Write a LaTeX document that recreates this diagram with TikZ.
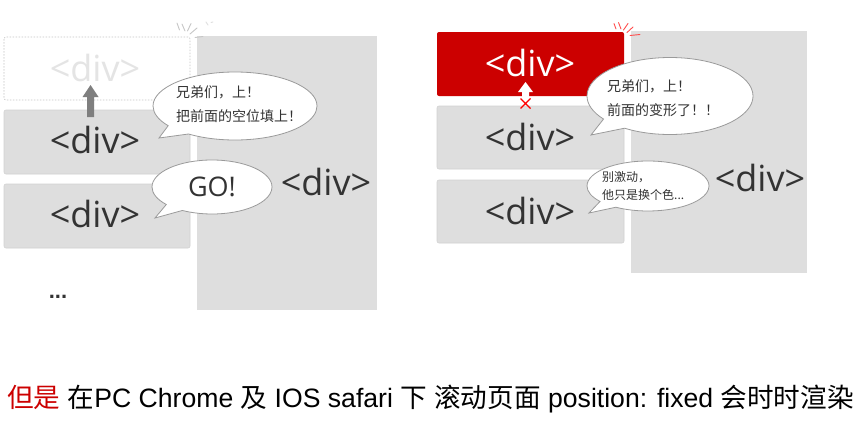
\documentclass[tikz,border=0pt]{standalone}
\usepackage{fontspec}
\setmainfont{Liberation Sans}
\newfontfamily\cjk{Noto Sans CJK SC}
\newfontfamily\divfont{Open Sans}
\usetikzlibrary{shapes.callouts}
\definecolor{boxgray}{HTML}{DEDEDE}
\definecolor{boxedge}{HTML}{D2D2D2}
\definecolor{divtext}{HTML}{333333}
\definecolor{ghost}{HTML}{E4E4E4}
\definecolor{dotedge}{HTML}{C4C4C4}
\definecolor{redbox}{HTML}{CC0000}
\definecolor{bubedge}{HTML}{9A9A9A}
\definecolor{arrgray}{HTML}{7F7F7F}
\newcommand{\Cj}[1]{{\cjk #1}}
\tikzset{
  divbox/.style={draw=boxedge, fill=boxgray, rounded corners=2pt, line width=0.6pt},
  bigbox/.style={fill=boxgray, draw=none},
  divlabel/.style={font=\divfont\fontsize{36}{40}\selectfont, text=divtext, inner sep=0pt},
  bubble/.style={ellipse callout, draw=bubedge, fill=white, line width=0.8pt, inner sep=0pt, callout pointer arc=20},
  btext/.style={font=\cjk\fontsize{14}{24}\selectfont, text=divtext, align=left, inner sep=0pt},
  burst/.style={line width=0.9pt, line cap=round},
}
\begin{document}
\begin{tikzpicture}[x=1pt,y=-1pt]
\useasboundingbox (0,0) rectangle (864,439);
\fill[white] (0,0) rectangle (864,439);

% ---------------- left panel ----------------
\path[bigbox] (197,36) rectangle (377,310);
\node[divlabel] (lbig) at (326,182) {<div>};

\draw[dotedge, dash pattern=on 1.5pt off 1.5pt, line width=0.6pt, rounded corners=2pt] (4,37) rectangle (190,100);
\node[divlabel, text=ghost] (lghost) at (95,68) {<div>};
\draw[divbox] (4,110) rectangle (190,174);
\node[divlabel] (l1) at (95,140) {<div>};
\draw[divbox] (4,184) rectangle (190,248);
\node[divlabel] (l2) at (95,214) {<div>};
\node[font=\fontsize{22}{22}\selectfont\bfseries, text=divtext] (ldots) at (58,297) {...};

% gray up arrow
\fill[arrgray] (87,117) -- (87,97) -- (82.5,97) -- (90.5,85) -- (98.5,97) -- (94,97) -- (94,117) -- cycle;

% burst (left, gray)
\draw[burst, draw=gray!45] (177,23) -- (179.5,30);
\draw[burst, draw=gray!45] (182,24) -- (185,31);
\draw[burst, draw=gray!45] (191,23.5) -- (187.5,31);
\draw[burst, draw=gray!45] (197,28) -- (190,34);
\draw[burst, draw=gray!45] (195,37.5) -- (203,36.5);
\draw[burst, draw=gray!25] (206,22) -- (208,25);
\draw[burst, draw=gray!25] (211,22.5) -- (213,22);

% bubbles left
\node[bubble, minimum width=164pt, minimum height=68pt, callout absolute pointer={(159,138)}] (lb1) at (235,106) {};
\node[btext, anchor=west] (lb1t) at (176,104) {兄弟们，上！\\把前面的空位填上！};
\node[bubble, minimum width=120pt, minimum height=54pt, callout absolute pointer={(155,218)}] (lb2) at (212,187) {};
\node[font=\divfont\fontsize{27}{30}\selectfont, text=divtext, inner sep=0pt] (lb2t) at (212,187) {GO!};

% ---------------- right panel ----------------
\path[bigbox] (631,31) rectangle (807,273);
\node[divlabel] (rbig) at (760,178) {<div>};

\path[fill=redbox, rounded corners=2pt] (437,32) rectangle (624,96);
\node[divlabel, text=white] (rred) at (530,63) {<div>};
\draw[divbox] (437,106) rectangle (624,169);
\node[divlabel] (r1) at (530,137) {<div>};
\draw[divbox] (437,180) rectangle (624,243);
\node[divlabel] (r2) at (530,211) {<div>};

% white up arrow and red cross
\fill[white] (522,101) -- (522,92) -- (518,92) -- (525.5,82) -- (533,92) -- (529,92) -- (529,101) -- cycle;
\draw[red, line width=1.2pt] (520.5,98.5) -- (530.5,108.5) (530.5,98.5) -- (520.5,108.5);

% burst (right, red)
\draw[burst, draw=red!70] (614,23.5) -- (616,29);
\draw[burst, draw=red!70] (618.5,22.5) -- (621,29);
\draw[burst, draw=red!70] (628,23.5) -- (623.5,30);
\draw[burst, draw=red!70] (633,27) -- (627,32.5);
\draw[burst, draw=red!70] (630,35.5) -- (640,34.5);

% bubbles right
\node[bubble, minimum width=166pt, minimum height=77pt, callout absolute pointer={(591,135)}] (rb1) at (670,96) {};
\node[btext, anchor=west] (rb1t) at (607,98.5) {兄弟们，上！\\前面的变形了！！};
\node[bubble, minimum width=122pt, minimum height=50pt, callout absolute pointer={(589,213)}] (rb2) at (648,186) {};
\node[btext, font=\cjk\fontsize{12}{18}\selectfont, anchor=west] (rb2t) at (602,186) {别激动，\\他只是换个色...};

% ---------------- caption ----------------
\node[anchor=base west, inner sep=0pt, font=\fontsize{26.6}{29}\selectfont] (cap) at (7,407)
  {\textcolor{red!80!black}{\Cj{但是}} \Cj{在}PC Chrome \Cj{及} IOS safari \Cj{下} \Cj{滚动页面} position: fixed \Cj{会时时渲染}};
\end{tikzpicture}
\end{document}
